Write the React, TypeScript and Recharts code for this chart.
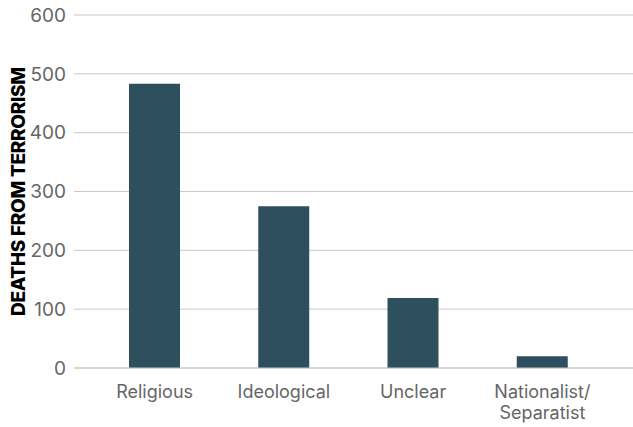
import { BarChart, Bar, XAxis, YAxis, CartesianGrid, Label } from "recharts";

const categories = ["Religious", "Ideological", "Unclear", "Nationalist/\nSeparatist"];
const deaths = [483, 275, 119, 20];
const yTicks = [0, 100, 200, 300, 400, 500, 600];

const data = categories.map((name, i) => ({ name, deaths: deaths[i] }));

const FONT = "Inter, 'Noto Sans', sans-serif";

function CategoryTick({ x, y, payload }: any) {
  const lines = String(payload.value).split("\n");
  return (
    <text x={x} y={y} textAnchor="middle" fill="#666" fontSize={18} fontFamily={FONT}>
      {lines.map((line, i) => (
        <tspan key={i} x={x} dy={i === 0 ? 22 : 21}>
          {line}
        </tspan>
      ))}
    </text>
  );
}

function AxisTitle({ viewBox }: any) {
  const cx = viewBox.x + 18;
  const cy = viewBox.y + viewBox.height / 2;
  return (
    <text
      x={cx}
      y={cy}
      transform={`rotate(-90, ${cx}, ${cy})`}
      textAnchor="middle"
      dominantBaseline="central"
      fill="#000"
      fontSize={19}
      fontWeight={800}
      fontFamily={FONT}
      letterSpacing={-0.3}
    >
      DEATHS FROM TERRORISM
    </text>
  );
}

export default function App() {
  return (
    <div style={{ position: "fixed", top: 0, left: 0, background: "#fff" }}>
      <BarChart
        width={633}
        height={427}
        data={data}
        margin={{ top: 15, right: 0, bottom: 9, left: 0 }}
        barSize={51}
      >
        <CartesianGrid vertical={false} stroke="#c8c8c8" strokeWidth={1} />
        <XAxis
          dataKey="name"
          interval={0}
          height={50}
          tickLine={false}
          axisLine={{ stroke: "#c8c8c8" }}
          padding={{ left: 16, right: 26 }}
          tick={<CategoryTick />}
        />
        <YAxis
          width={74}
          domain={[0, 600]}
          ticks={yTicks}
          tickLine={false}
          axisLine={false}
          tickSize={0}
          tickMargin={8}
          tick={{ fill: "#666", fontSize: 19, fontFamily: FONT }}
        >
          <Label content={<AxisTitle />} />
        </YAxis>
        <Bar dataKey="deaths" fill="#2e4f5e" isAnimationActive={false} />
      </BarChart>
    </div>
  );
}
